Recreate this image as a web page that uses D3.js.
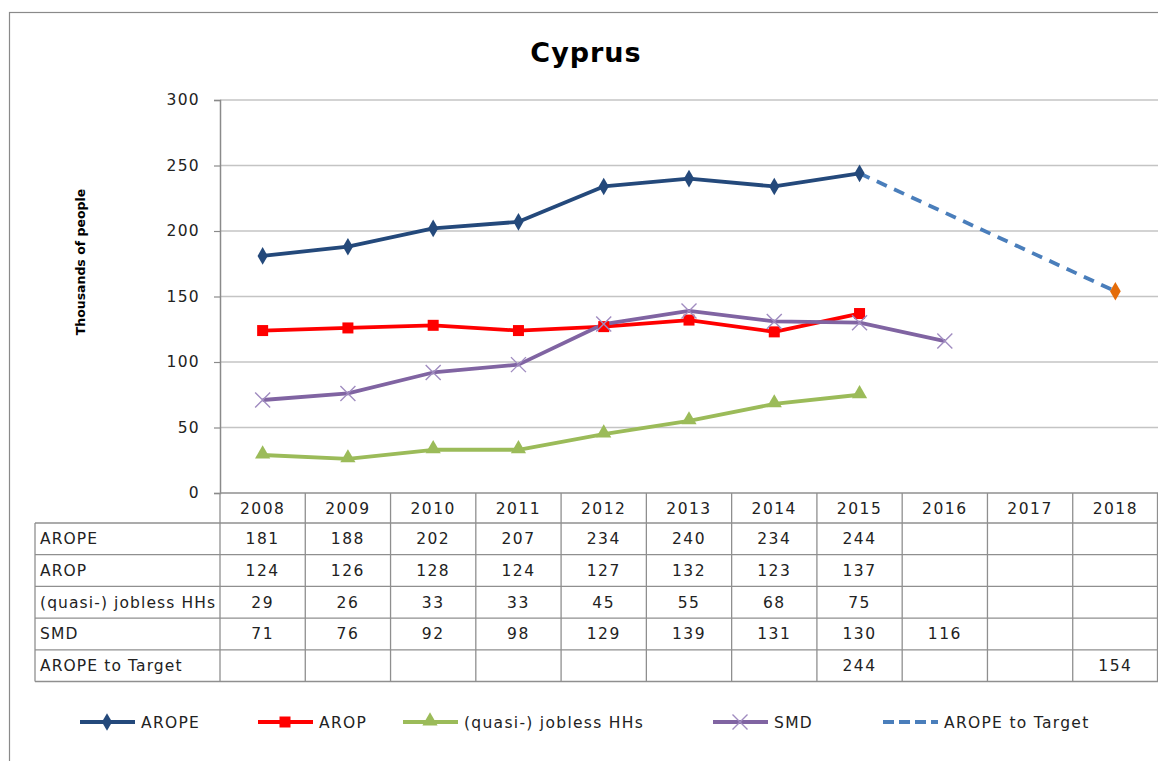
<!DOCTYPE html>
<html>
<head>
<meta charset="utf-8">
<script src="https://cdn.jsdelivr.net/npm/d3@7"></script>
<style>
  body { margin: 0; background: #fff; }
  svg { display: block; font-family: "DejaVu Sans", sans-serif; }
</style>
</head>
<body>
<svg id="chart" width="1158" height="761"></svg>
<script>
// data
var years = ["2008","2009","2010","2011","2012","2013","2014","2015","2016","2017","2018"];
var arope = [181, 188, 202, 207, 234, 240, 234, 244, null, null, null];
var arop = [124, 126, 128, 124, 127, 132, 123, 137, null, null, null];
var jobless = [29, 26, 33, 33, 45, 55, 68, 75, null, null, null];
var smd = [71, 76, 92, 98, 129, 139, 131, 130, 116, null, null];
var target = [null, null, null, null, null, null, null, 244, null, null, 154];
var yTicks = [0, 50, 100, 150, 200, 250, 300];

var series = [
  {name: "AROPE", values: arope, color: "#24497B", marker: "diamond"},
  {name: "AROP", values: arop, color: "#FF0000", marker: "square"},
  {name: "(quasi-) jobless HHs", values: jobless, color: "#9BBB59", marker: "triangle"},
  {name: "SMD", values: smd, color: "#8064A2", marker: "cross"},
  {name: "AROPE to Target", values: target, color: "#4A7EBB", marker: "none", dashed: true}
];

var svg = d3.select("#chart");
var plotLeft = 220, plotRight = 1158, plotTop = 100, plotBottom = 493;
var rowH = 31.7, headH = 30;
var fs = "15.5px", ls = "1.1px";

var x = d3.scaleBand().domain(years).range([plotLeft, plotRight]);
var y = d3.scaleLinear().domain([0, 300]).range([plotBottom, plotTop]);

// outer frame
svg.append("rect")
  .attr("x", 9.5).attr("y", 12.5)
  .attr("width", 1170).attr("height", 780)
  .attr("fill", "none").attr("stroke", "#8a8a8a").attr("stroke-width", 1.2);

// title
svg.append("text")
  .attr("x", 586).attr("y", 62)
  .attr("text-anchor", "middle")
  .style("font-size", "27px").style("font-weight", "bold").style("letter-spacing", "1px")
  .text("Cyprus");

// gridlines
svg.append("g").selectAll("line")
  .data(yTicks.filter(function(d) { return d > 0; }))
  .enter().append("line")
    .attr("x1", plotLeft).attr("x2", plotRight)
    .attr("y1", function(d) { return y(d); }).attr("y2", function(d) { return y(d); })
    .attr("stroke", "#c4c4c4").attr("stroke-width", 1.5);

// y axis
var yAxis = svg.append("g")
  .attr("transform", "translate(" + plotLeft + ",0)")
  .call(d3.axisLeft(y).tickValues(yTicks).tickSize(6).tickPadding(14));
yAxis.select(".domain").attr("stroke", "#8a8a8a").attr("stroke-width", 1.5);
yAxis.selectAll(".tick line").attr("stroke", "#8a8a8a").attr("stroke-width", 1.2);
yAxis.selectAll(".tick text").style("font-size", fs).style("letter-spacing", "1.3px")
  .style("font-family", "DejaVu Sans").attr("fill", "#222");

// y label
svg.append("text")
  .attr("transform", "translate(85,262) rotate(-90)")
  .attr("text-anchor", "middle")
  .style("font-size", "12.5px").style("font-weight", "bold")
  .text("Thousands  of people");

// lines
var line = d3.line()
  .defined(function(d) { return d.v != null; })
  .x(function(d) { return x(d.year) + x.bandwidth() / 2; })
  .y(function(d) { return y(d.v); });

function pts(s) {
  return years.map(function(yr, i) { return {year: yr, v: s.values[i]}; });
}

series.forEach(function(s) {
  var data = pts(s);
  if (s.dashed) data = data.filter(function(d) { return d.v != null; });
  svg.append("path")
    .datum(data)
    .attr("fill", "none")
    .attr("stroke", s.color)
    .attr("stroke-width", 3.8)
    .attr("stroke-linejoin", "round")
    .attr("stroke-dasharray", s.dashed ? "11,8" : null)
    .attr("d", line);
});

function drawMarker(g, type, cx, cy, color) {
  if (type == "diamond") {
    g.append("path").attr("d", d3.symbol().type(d3.symbolDiamond).size(90)())
      .attr("transform", "translate(" + cx + "," + cy + ")").attr("fill", color);
  } else if (type == "square") {
    g.append("rect").attr("x", cx - 5.5).attr("y", cy - 5.5).attr("width", 11).attr("height", 11).attr("fill", color);
  } else if (type == "triangle") {
    g.append("path").attr("d", d3.symbol().type(d3.symbolTriangle).size(100)())
      .attr("transform", "translate(" + cx + "," + (cy - 1) + ")").attr("fill", color);
  } else if (type == "cross") {
    g.append("path").attr("d", "M-7.5,-7.5L7.5,7.5M-7.5,7.5L7.5,-7.5")
      .attr("transform", "translate(" + cx + "," + cy + ")")
      .attr("stroke", "#A08CC0").attr("stroke-width", 1.4).attr("fill", "none");
  } else if (type == "orange") {
    g.append("path").attr("d", d3.symbol().type(d3.symbolDiamond).size(100)())
      .attr("transform", "translate(" + cx + "," + cy + ")").attr("fill", "#E46C0A");
  }
}

var markers = svg.append("g");
series.forEach(function(s) {
  pts(s).forEach(function(d, i) {
    if (d.v == null) return;
    var type = s.marker;
    if (s.dashed) { if (i != years.length - 1) return; type = "orange"; }
    drawMarker(markers, type, x(d.year) + x.bandwidth() / 2, y(d.v), s.color);
  });
});

// data table
var tbl = svg.append("g").attr("stroke", "#8f8f8f").attr("stroke-width", 1.3);
var tableTop = plotBottom + headH;
var tableBottom = tableTop + rowH * series.length;
var tableLeft = 35;

// horizontal lines
tbl.append("line").attr("x1", plotLeft).attr("x2", plotRight).attr("y1", plotBottom).attr("y2", plotBottom);
d3.range(series.length + 1).forEach(function(i) {
  tbl.append("line").attr("x1", tableLeft).attr("x2", plotRight)
    .attr("y1", tableTop + i * rowH).attr("y2", tableTop + i * rowH);
});
// vertical lines
tbl.append("line").attr("x1", tableLeft).attr("x2", tableLeft).attr("y1", tableTop).attr("y2", tableBottom);
years.forEach(function(yr) {
  var xx = x(yr);
  tbl.append("line").attr("x1", xx).attr("x2", xx).attr("y1", plotBottom).attr("y2", tableBottom);
});
tbl.append("line").attr("x1", plotRight - 0.5).attr("x2", plotRight - 0.5).attr("y1", plotBottom).attr("y2", tableBottom);

var txt = svg.append("g").style("font-size", fs).style("letter-spacing", ls).attr("fill", "#222");
years.forEach(function(yr) {
  txt.append("text")
    .attr("x", x(yr) + x.bandwidth() / 2).attr("y", plotBottom + headH / 2 + 5.5)
    .attr("text-anchor", "middle").style("letter-spacing", "1.5px").text(yr);
});
series.forEach(function(s, r) {
  var cy = tableTop + r * rowH + rowH / 2 + 5.5;
  txt.append("text").attr("x", tableLeft + 5).attr("y", cy).text(s.name);
  s.values.forEach(function(v, i) {
    if (v == null) return;
    txt.append("text")
      .attr("x", x(years[i]) + x.bandwidth() / 2).attr("y", cy)
      .attr("text-anchor", "middle").style("letter-spacing", "1.5px").text(v);
  });
});

// legend
var legendX = [80, 258, 403, 713, 883];
var legY = 722;
var leg = svg.append("g");
series.forEach(function(s, i) {
  var lx = legendX[i];
  leg.append("line")
    .attr("x1", lx).attr("x2", lx + 55).attr("y1", legY).attr("y2", legY)
    .attr("stroke", s.color).attr("stroke-width", 3.8)
    .attr("stroke-dasharray", s.dashed ? "11,5" : null);
  if (!s.dashed) drawMarker(leg, s.marker, lx + 27, legY, s.color);
  leg.append("text")
    .attr("x", lx + 61).attr("y", legY + 5.5)
    .style("font-size", fs).style("letter-spacing", "1.3px").attr("fill", "#222")
    .text(s.name);
});
</script>
</body>
</html>
